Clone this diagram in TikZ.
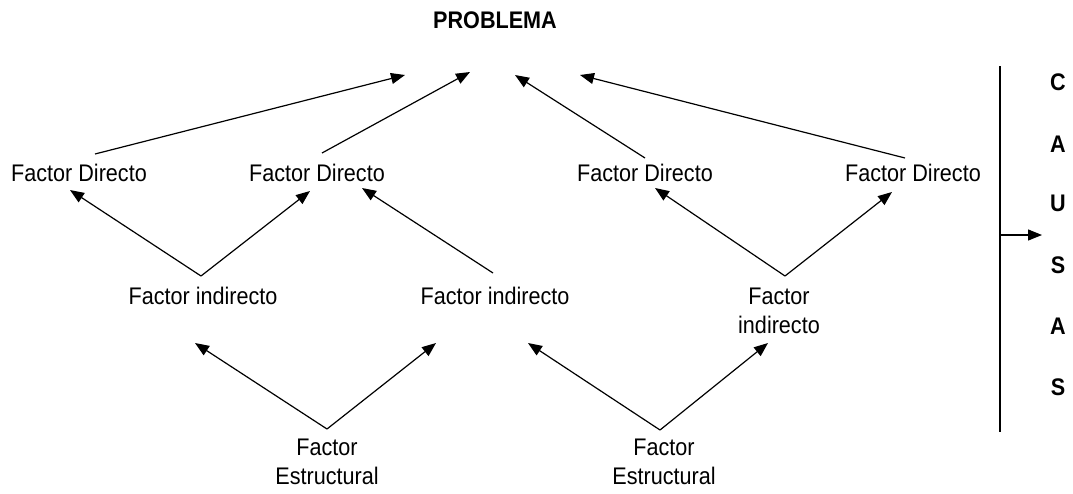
\documentclass[tikz,border=0pt]{standalone}
\usepackage{fontspec}
\setmainfont{Liberation Sans}[FakeStretch=0.9]
\usetikzlibrary{arrows.meta}
\begin{document}
\begin{tikzpicture}[x=1pt,y=-1pt,
  lbl/.style={inner sep=0pt,align=center,font=\fontsize{24}{29}\selectfont},
  ttl/.style={inner sep=0pt,font=\fontsize{24}{28}\selectfont\bfseries},
  arr/.style={line width=1.2pt,-{Triangle[length=14pt,width=11pt]}}]
\useasboundingbox (0,0) rectangle (1073,493);

% title
\node[ttl] (prob) at (495,20) {PROBLEMA};

% direct factors
\node[lbl] (fd1) at (79,173)  {Factor Directo};
\node[lbl] (fd2) at (317,173) {Factor Directo};
\node[lbl] (fd3) at (645,173) {Factor Directo};
\node[lbl] (fd4) at (913,173) {Factor Directo};

% indirect factors
\node[lbl] (fi1) at (203,296) {Factor indirecto};
\node[lbl] (fi2) at (495,296) {Factor indirecto};
\node[lbl] (fi3) at (779,311) {Factor\\indirecto};

% structural factors
\node[lbl] (fe1) at (327,462) {Factor\\Estructural};
\node[lbl] (fe2) at (664,462) {Factor\\Estructural};

% direct -> problem
\draw[arr] ([shift={(16,-19)}]fd1.center) -- ([shift={(-90,55)}]prob.center);
\draw[arr] ([shift={(5,-20)}]fd2.center)  -- ([shift={(-25,52)}]prob.center);
\draw[arr] ([shift={(0,-15)}]fd3.center)  -- ([shift={(20,55)}]prob.center);
\draw[arr] ([shift={(-8,-15)}]fd4.center) -- ([shift={(85,55)}]prob.center);

% indirect -> direct
\draw[arr] ([shift={(-2,-20)}]fi1.center) -- ([shift={(-9,17)}]fd1.center);
\draw[arr] ([shift={(-2,-20)}]fi1.center) -- ([shift={(-7,18)}]fd2.center);
\draw[arr] ([shift={(-2,-23)}]fi2.center) -- ([shift={(45,15)}]fd2.center);
\draw[arr] ([shift={(6,-35)}]fi3.center)  -- ([shift={(10,15)}]fd3.center);
\draw[arr] ([shift={(6,-35)}]fi3.center)  -- ([shift={(-21,19)}]fd4.center);

% structural -> indirect
\draw[arr] ([shift={(0,-33)}]fe1.center)  -- ([shift={(-8,47)}]fi1.center);
\draw[arr] ([shift={(0,-33)}]fe1.center)  -- ([shift={(-59,47)}]fi2.center);
\draw[arr] ([shift={(-4,-32)}]fe2.center) -- ([shift={(33,47)}]fi2.center);
\draw[arr] ([shift={(-4,-32)}]fe2.center) -- ([shift={(-11,32)}]fi3.center);

% causes column
\coordinate (vtop) at (1000,66);
\coordinate (vbot) at (1000,432);
\coordinate (vtip) at (1042,235);
\draw[line width=1.5pt] (vtop) -- (vbot);
\draw[arr] (vtop |- vtip) -- (vtip);
\foreach \ch/\yy [count=\k] in {C/82,A/144,U/203,S/265,A/326,S/387}
  \node[ttl] (causa\k) at (1058,\yy) {\ch};
\end{tikzpicture}
\end{document}
